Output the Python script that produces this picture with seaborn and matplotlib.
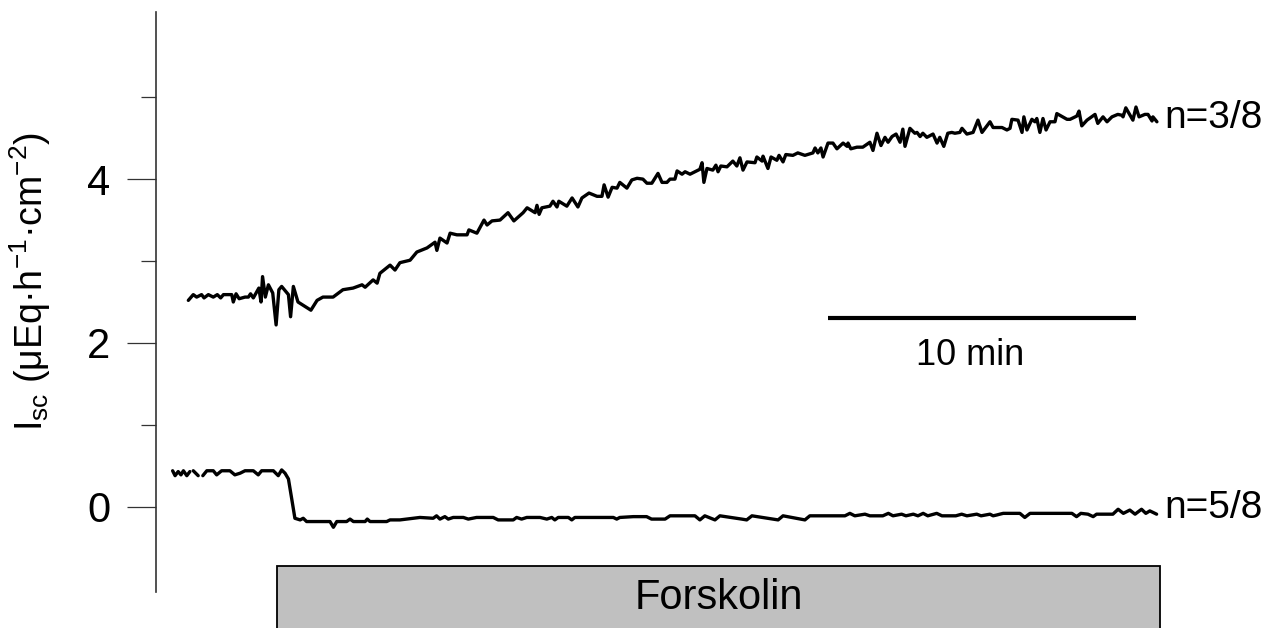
import numpy as np
import pandas as pd
import matplotlib
matplotlib.use("Agg")
import matplotlib.pyplot as plt
import seaborn as sns
from matplotlib.patches import Rectangle

# ---------------- data (time in min, Isc in uEq/h/cm2) ----------------
upper_time = [
    1.05, 1.21, 1.32, 1.48, 1.56, 1.70, 1.86, 1.99, 2.10, 2.19,
    2.46, 2.51, 2.60, 2.70, 2.89, 3.00, 3.07, 3.16, 3.34, 3.41,
    3.46, 3.55, 3.65, 3.79, 3.90, 3.99, 4.08, 4.30, 4.37, 4.46,
    4.61, 4.90, 5.03, 5.23, 5.42, 5.75, 6.07, 6.40, 6.69, 6.79,
    7.05, 7.18, 7.27, 7.60, 7.76, 7.92, 8.25, 8.47, 8.80, 9.06,
    9.12, 9.22, 9.45, 9.55, 9.77, 10.10, 10.16, 10.42, 10.65, 10.75,
    10.91, 11.17, 11.43, 11.62, 11.92, 12.05, 12.31, 12.37, 12.44, 12.53,
    12.79, 12.89, 13.02, 13.08, 13.34, 13.51, 13.70, 13.83, 14.06, 14.32,
    14.48, 14.55, 14.68, 14.81, 14.97, 15.06, 15.29, 15.45, 15.62, 15.81,
    15.94, 16.10, 16.30, 16.43, 16.59, 16.69, 16.85, 16.92, 17.08, 17.18,
    17.34, 17.66, 17.73, 17.79, 17.89, 18.08, 18.18, 18.25, 18.34, 18.54,
    18.73, 18.86, 18.96, 19.06, 19.19, 19.45, 19.51, 19.68, 19.71, 19.87,
    19.97, 20.16, 20.23, 20.36, 20.45, 20.68, 20.84, 21.07, 21.33, 21.40,
    21.49, 21.59, 21.66, 21.82, 21.98, 22.11, 22.31, 22.44, 22.47, 22.56,
    22.76, 22.95, 23.18, 23.28, 23.41, 23.54, 23.67, 23.77, 23.90, 24.03,
    24.16, 24.25, 24.32, 24.48, 24.64, 24.71, 24.81, 24.90, 25.03, 25.23,
    25.36, 25.45, 25.58, 25.71, 25.84, 25.94, 26.10, 26.17, 26.33, 26.53,
    26.69, 26.82, 27.08, 27.18, 27.47, 27.63, 27.73, 27.79, 27.99, 28.12,
    28.18, 28.28, 28.44, 28.54, 28.60, 28.70, 28.80, 28.90, 29.03, 29.19,
    29.25, 29.58, 29.68, 29.90, 29.97, 30.06, 30.23, 30.49, 30.58, 30.75,
    30.88, 31.04, 31.23, 31.36, 31.40, 31.49, 31.72, 31.82, 31.92, 32.11,
    32.21, 32.34, 32.37, 32.50,
]
upper_isc = [
    2.52, 2.59, 2.56, 2.59, 2.55, 2.59, 2.56, 2.59, 2.55, 2.59,
    2.59, 2.50, 2.60, 2.54, 2.56, 2.56, 2.60, 2.55, 2.67, 2.50,
    2.81, 2.56, 2.71, 2.61, 2.22, 2.65, 2.69, 2.59, 2.32, 2.69,
    2.50, 2.43, 2.40, 2.52, 2.56, 2.56, 2.65, 2.67, 2.71, 2.68,
    2.77, 2.73, 2.85, 2.95, 2.89, 2.98, 3.01, 3.11, 3.16, 3.23,
    3.13, 3.28, 3.22, 3.34, 3.32, 3.32, 3.38, 3.34, 3.50, 3.44,
    3.49, 3.50, 3.59, 3.49, 3.59, 3.65, 3.59, 3.68, 3.57, 3.65,
    3.67, 3.73, 3.66, 3.73, 3.67, 3.77, 3.66, 3.77, 3.83, 3.79,
    3.79, 3.93, 3.78, 3.90, 3.89, 3.96, 3.89, 3.99, 4.01, 4.00,
    3.95, 3.95, 4.07, 3.96, 3.96, 4.00, 4.00, 4.10, 4.06, 4.09,
    4.06, 4.12, 4.20, 3.96, 4.13, 4.11, 4.17, 4.09, 4.16, 4.15,
    4.22, 4.16, 4.26, 4.11, 4.21, 4.20, 4.27, 4.22, 4.28, 4.13,
    4.27, 4.23, 4.29, 4.21, 4.30, 4.29, 4.32, 4.29, 4.32, 4.38,
    4.32, 4.38, 4.27, 4.44, 4.44, 4.37, 4.44, 4.40, 4.44, 4.37,
    4.39, 4.39, 4.45, 4.35, 4.56, 4.41, 4.51, 4.45, 4.52, 4.55,
    4.45, 4.61, 4.40, 4.62, 4.56, 4.57, 4.52, 4.56, 4.51, 4.55,
    4.44, 4.51, 4.40, 4.56, 4.57, 4.56, 4.57, 4.62, 4.55, 4.57,
    4.72, 4.57, 4.70, 4.63, 4.63, 4.60, 4.62, 4.73, 4.72, 4.57,
    4.76, 4.60, 4.73, 4.70, 4.74, 4.57, 4.74, 4.60, 4.70, 4.70,
    4.80, 4.73, 4.73, 4.77, 4.83, 4.65, 4.72, 4.79, 4.68, 4.76,
    4.70, 4.76, 4.79, 4.78, 4.76, 4.87, 4.72, 4.88, 4.76, 4.79,
    4.79, 4.71, 4.76, 4.70,
]

nan = float("nan")
lower_time = [
    0.54, 0.62, 0.72, 0.81, 0.89, 1.00, 1.10, 1.15, 1.21, 1.37,
    1.45, 1.52, 1.65, 1.86, 1.97, 2.13, 2.40, 2.56, 2.73, 2.89,
    3.16, 3.32, 3.43, 3.81, 3.97, 4.08, 4.19, 4.30, 4.41, 4.51,
    4.68, 4.78, 4.89, 5.65, 5.76, 5.87, 6.19, 6.30, 6.41, 6.79,
    6.86, 6.95, 7.49, 7.60, 7.92,
    8.57, 9.00, 9.11, 9.22, 9.38, 9.49, 9.65, 9.98, 10.14, 10.41,
    10.95, 11.11, 11.60, 11.71, 11.87, 12.04, 12.47, 12.69, 12.85, 12.95,
    13.06, 13.39, 13.50, 13.60, 13.98, 14.85, 14.96, 15.06, 15.50, 15.93,
    16.09, 16.53, 16.69, 17.50, 17.66, 17.82, 18.15, 18.31, 19.02, 19.18,
    19.35, 20.20, 20.36, 21.07, 21.23, 22.37, 22.53, 22.69, 23.02, 23.18,
    23.60, 23.78, 23.93, 24.21, 24.35, 24.59, 24.74, 24.91, 25.06, 25.35,
    25.52, 25.97, 26.16, 26.33, 26.65, 26.79, 27.08, 27.18, 27.30, 27.40,
    27.51, 28.05, 28.21, 28.38, 29.74, 29.89, 30.03, 30.26, 30.43, 30.54,
    31.07, 31.24, 31.41, 31.62, 31.79, 32.00, 32.14, 32.27, 32.49,
]
lower_isc = [
    0.44, 0.38, 0.43, 0.39, 0.44, 0.38, 0.43, nan, 0.44, 0.38,
    nan, 0.38, 0.44, 0.44, 0.39, 0.44, 0.44, 0.39, 0.41, 0.44,
    0.44, 0.39, 0.44, 0.44, 0.38, 0.45, 0.41, 0.34, 0.09, -0.14,
    -0.16, -0.14, -0.18, -0.18, -0.25, -0.18, -0.18, -0.15, -0.18, -0.18,
    -0.15, -0.18, -0.18, -0.16, -0.16,
    -0.13, -0.14, -0.11, -0.15, -0.12, -0.15, -0.13, -0.13, -0.15, -0.13,
    -0.13, -0.16, -0.16, -0.13, -0.15, -0.13, -0.13, -0.15, -0.13, -0.16,
    -0.13, -0.13, -0.16, -0.13, -0.13, -0.13, -0.15, -0.13, -0.12, -0.12,
    -0.15, -0.15, -0.11, -0.11, -0.16, -0.11, -0.16, -0.11, -0.15, -0.16,
    -0.11, -0.16, -0.11, -0.16, -0.11, -0.11, -0.08, -0.11, -0.09, -0.11,
    -0.11, -0.08, -0.11, -0.09, -0.11, -0.09, -0.11, -0.08, -0.11, -0.08,
    -0.11, -0.11, -0.09, -0.11, -0.09, -0.11, -0.09, -0.11, -0.10, -0.09,
    -0.08, -0.08, -0.13, -0.08, -0.08, -0.12, -0.08, -0.09, -0.12, -0.09,
    -0.09, -0.03, -0.08, -0.04, -0.09, -0.03, -0.08, -0.05, -0.09,
]

trace_labels = ["n=3/8", "n=5/8"]
label_isc = [4.74, -0.01]
y_major = [0, 2, 4]
y_minor = [1, 3, 5]
y_range = (-1.04, 6.04)
x_range = (0.0, 32.6)
forskolin_start = 3.93
forskolin_label = "Forskolin"
scale_start = 21.82
scale_len = 10
scale_level = 2.30
scale_label = "10 min"
ylabel = r"I$_{\mathrm{sc}}$ (μEq·h$^{\mathrm{-1}}$·cm$^{\mathrm{-2}}$)"

# ---------------- style ----------------
sns.set_theme(style="white")
plt.rcParams["font.family"] = ["Liberation Sans", "DejaVu Sans"]
plt.rcParams["mathtext.fontset"] = "custom"
plt.rcParams["mathtext.rm"] = "Liberation Sans"
plt.rcParams["mathtext.it"] = "Liberation Sans:italic"
plt.rcParams["mathtext.bf"] = "Liberation Sans:bold"
plt.rcParams["text.color"] = "black"
plt.rcParams["ytick.labelcolor"] = "black"

W, H = 1273, 628
fig = plt.figure(figsize=(W / 100, H / 100), dpi=100)
ax = fig.add_axes([156 / W, 36 / H, 1004 / W, 580 / H])

def draw_trace(t, v):
    df = pd.DataFrame({"t": t, "v": v})
    df["seg"] = df["v"].isna().cumsum()
    df = df.dropna()
    sns.lineplot(data=df, x="t", y="v", units="seg", estimator=None,
                 sort=False, color="black", lw=2.4, ax=ax, legend=False)

draw_trace(upper_time, upper_isc)
draw_trace(lower_time, lower_isc)

ax.set_xlim(*x_range)
ax.set_ylim(*y_range)
ax.set_xlabel("")
ax.set_ylabel("")
ax.set_xticks([])
ax.set_yticks(y_major)
ax.set_yticks(y_minor, minor=True)
ax.set_yticklabels([str(v) for v in y_major])
for s in ["top", "right", "bottom"]:
    ax.spines[s].set_visible(False)
ax.spines["left"].set_color("#333333")
ax.spines["left"].set_linewidth(1.2)
ax.tick_params(axis="y", which="major", direction="out", length=21, width=0.9,
               color="#333333", labelsize=30, labelcolor="black", pad=12, left=True)
ax.tick_params(axis="y", which="minor", direction="out", length=11, width=0.9,
               color="#333333", left=True)

# trace labels
for lab, yv in zip(trace_labels, label_isc):
    ax.text(x_range[1] + 0.15, yv, lab, fontsize=28, ha="left", va="center",
            clip_on=False)

# scale bar
ax.plot([scale_start, scale_start + scale_len], [scale_level, scale_level],
        color="black", lw=3, solid_capstyle="butt")
ax.text(scale_start + scale_len / 2 - 0.4, scale_level - 0.45, scale_label,
        fontsize=26, ha="center", va="center")

# forskolin bar
box_top = -0.72
box_bot = -1.6
ax.add_patch(Rectangle((forskolin_start, box_bot), x_range[1] - forskolin_start,
                       box_top - box_bot, facecolor="#c0c0c0",
                       edgecolor="black", lw=1.3, clip_on=False, zorder=3))
ax.text((forskolin_start + x_range[1]) / 2, -1.11, forskolin_label,
        fontsize=30, ha="center", va="center", zorder=4, clip_on=False)

fig.text(30 / W, 1 - 281 / H, ylabel, rotation=90, ha="center", va="center",
         fontsize=27)

fig.savefig("out.png", dpi=100)
